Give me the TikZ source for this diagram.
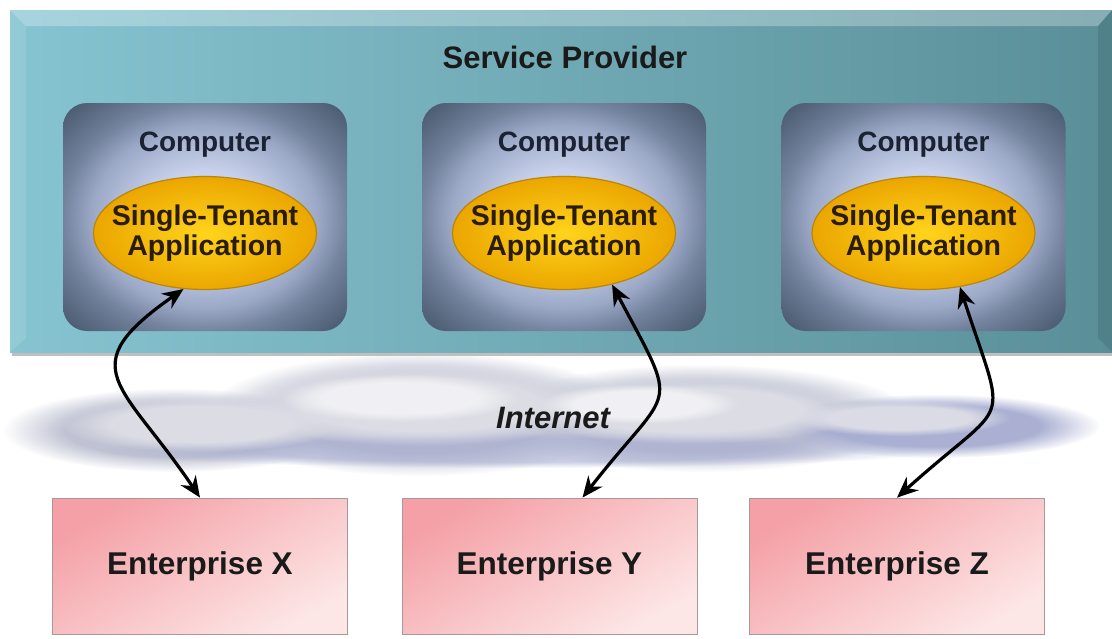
\documentclass[tikz,border=0pt]{standalone}
\usepackage{fontspec}
\setmainfont{Liberation Sans}
\usepackage{tikz}
\usetikzlibrary{arrows.meta,shapes.geometric,fadings}
\usepackage{xcolor}
\definecolor{spleft}{HTML}{86C4D1}
\definecolor{spright}{HTML}{5A8F98}
\definecolor{compin}{HTML}{C9D2EC}
\definecolor{compmid}{HTML}{9AA8C6}
\definecolor{compedge}{HTML}{74839E}
\definecolor{compout}{HTML}{4F5F75}
\definecolor{appin}{HTML}{FFD41C}
\definecolor{appout}{HTML}{EBA600}
\definecolor{appline}{HTML}{B8860B}
\definecolor{entdark}{HTML}{F4A0A6}
\definecolor{entlight}{HTML}{FDE6E6}
\definecolor{entline}{HTML}{A89898}
\definecolor{textdark}{HTML}{1A1A1A}
\definecolor{comptext}{HTML}{1B2233}
\definecolor{apptext}{HTML}{2A1C05}
\definecolor{cloudwhite}{HTML}{F2F2F5}
\definecolor{cloudlight}{HTML}{DDDEE6}
\definecolor{cloudmid}{HTML}{BCBFD0}
\definecolor{clouddark}{HTML}{A6ACD0}

% light centre, dark rim for the computers
\pgfdeclareradialshading{compshade}{\pgfpointorigin}{color(0bp)=(compin); color(10bp)=(compin); color(20bp)=(compmid); color(25bp)=(compedge); color(33bp)=(compout); color(50bp)=(compout)}
% soft edged ellipse for the cloud
\pgfdeclareradialshading{cloudshade}{\pgfpointorigin}{color(0bp)=(white); color(16bp)=(white); color(25bp)=(black); color(50bp)=(black)}
\pgfdeclarefading{fuzzy}{\pgfuseshading{cloudshade}}

\begin{document}
\begin{tikzpicture}[x=1pt, y=-1pt,
  comp/.style={rounded corners=24pt, minimum width=284pt, minimum height=228pt, shading=compshade},
  comptitle/.style={font=\fontsize{28}{30}\selectfont\bfseries, text=comptext},
  app/.style={ellipse, draw=appline, line width=1.2pt, minimum width=223pt, minimum height=113pt,
    inner color=appin, outer color=appout, inner sep=-18pt, align=center,
    font=\fontsize{28.5}{30}\selectfont\bfseries, text=apptext},
  ent/.style={draw=entline, line width=0.8pt, minimum width=295pt, minimum height=136pt,
    top color=entdark, bottom color=entlight, shading angle=30,
    font=\fontsize{31.5}{34}\selectfont\bfseries, text=textdark},
  link/.style={line width=3.2pt, {Stealth[length=21pt,width=18pt,inset=7pt]}-{Stealth[length=21pt,width=18pt,inset=7pt]}},
  puff/.style={path fading=fuzzy, opacity=0.95}
]
\useasboundingbox (0,0) rectangle (1112,638);

% Service provider
\fill[black, opacity=0.25] (12,352) rectangle (1112,356);
\shade[left color=spleft, right color=spright] (10,10) rectangle (1112,352);
\fill[white, opacity=0.28] (10,10) -- (1112,10) -- (1098,26) -- (26,26) -- cycle;
\fill[white, opacity=0.10] (10,10) -- (26,26) -- (26,338) -- (10,352) -- cycle;
\fill[black, opacity=0.10] (1112,10) -- (1098,26) -- (1098,338) -- (1112,352) -- cycle;
\node[font=\fontsize{31}{34}\selectfont\bfseries, text=textdark] (sp) at (565,57) {Service Provider};

% Computers
\node[comp, shade] (pc1) at (205,217) {};
\node[comp, shade] (pc2) at (564,217) {};
\node[comp, shade] (pc3) at (923.5,217) {};
\node[comptitle] (pc1t) at (205,145) {Computer};
\node[comptitle] (pc2t) at (564,145) {Computer};
\node[comptitle] (pc3t) at (923.5,145) {Computer};

% Applications
\node[app] (app1) at (205,233) {Single-Tenant\\Application};
\node[app] (app2) at (564,233) {Single-Tenant\\Application};
\node[app] (app3) at (923.5,233) {Single-Tenant\\Application};

% Enterprises
\node[ent] (entX) at (200,566) {Enterprise X};
\node[ent] (entY) at (549.5,566) {Enterprise Y};
\node[ent] (entZ) at (897,566) {Enterprise Z};

% Internet cloud
\fill[cloudmid, puff] (175,430) ellipse (172 and 42);
\fill[cloudmid, puff] (420,414) ellipse (215 and 62);
\fill[cloudmid, puff] (700,418) ellipse (215 and 54);
\fill[clouddark, puff] (935,426) ellipse (165 and 32);
\fill[clouddark, opacity=0.6, path fading=fuzzy] (520,450) ellipse (420 and 18);
\fill[cloudlight, puff] (200,424) ellipse (140 and 28);
\fill[cloudlight, puff] (420,404) ellipse (185 and 42);
\fill[cloudlight, puff] (690,410) ellipse (175 and 34);
\fill[cloudlight, puff] (900,418) ellipse (110 and 18);
\fill[cloudwhite, puff] (400,398) ellipse (120 and 24);
\fill[cloudwhite, puff] (640,404) ellipse (100 and 20);
\node[font=\fontsize{31}{34}\selectfont\bfseries\itshape, text=textdark] (net) at (553,418) {Internet};

% Links
\draw[link] (entX.north) to[out=124, in=215, looseness=1.7] (app1.249);
\draw[link] ([xshift=33pt]entY.north) to[out=52, in=298, looseness=1.75] (app2.313);
\draw[link] (entZ.north) to[out=42, in=288, looseness=1.8] (app3.304);
\end{tikzpicture}
\end{document}
